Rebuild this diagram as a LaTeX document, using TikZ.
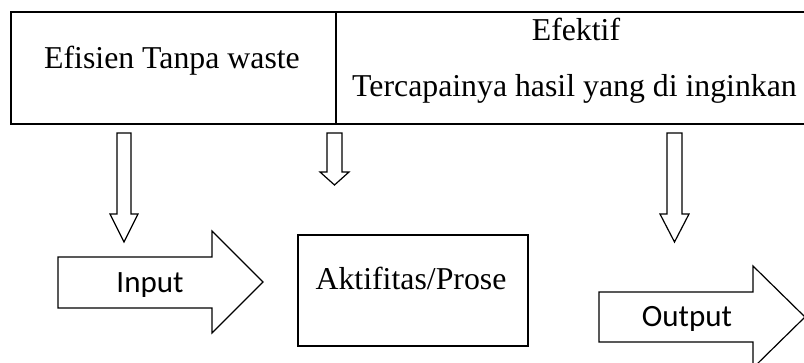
\documentclass[tikz,border=0pt]{standalone}
\usepackage{fontspec}
\setmainfont{Liberation Serif}
\newfontfamily\calfont{Carlito}
\begin{document}
\begin{tikzpicture}[x=1pt,y=-1pt,
  cell/.style={draw,line width=2pt,inner sep=0pt},
  blockarrow/.style={draw,line width=1.2pt,fill=white,line join=miter},
  serif/.style={font=\fontsize{31.8}{36}\selectfont,inner sep=0pt,anchor=base},
  sans/.style={font=\calfont\fontsize{31}{36}\selectfont,inner sep=0pt,anchor=base}]
\useasboundingbox (0,0) rectangle (804,363);
\clip (0,0) rectangle (804,363);
\fill[white] (0,0) rectangle (804,363);
% table
\node[cell,minimum width=325pt,minimum height=111.5pt] (left) at (173.5,68.25) {};
\node[cell,minimum width=494pt,minimum height=111.5pt] (right) at (583,68.25) {};
\node[serif] (efisien) at (172,69) {Efisien Tanpa waste};
\node[serif] (efektif) at (576,41) {Efektif};
\node[serif] (hasil) at (574.5,97) {Tercapainya hasil yang di inginkan};
% down arrows
\draw[blockarrow] (117,133) -- (131,133) -- (131,214) -- (138,214) -- (124,242) -- (110,214) -- (117,214) -- cycle;
\draw[blockarrow] (327,133) -- (342,133) -- (342,172) -- (349,172) -- (334.5,185) -- (320,172) -- (327,172) -- cycle;
\draw[blockarrow] (667,133) -- (682,133) -- (682,214) -- (689,214) -- (674.5,242) -- (660,214) -- (667,214) -- cycle;
% input arrow
\draw[blockarrow] (58,257) -- (212,257) -- (212,231) -- (263,282) -- (212,333) -- (212,308) -- (58,308) -- cycle;
\node[sans] (input) at (150,293) {Input};
% process box
\node[draw,line width=1.8pt,minimum width=230pt,minimum height=111pt,inner sep=0pt] (proc) at (413,290.5) {};
\node[serif] (aktif) at (411,290) {Aktifitas/Prose};
% output arrow
\draw[blockarrow] (599,292) -- (753,292) -- (753,266) -- (805,317) -- (753,368) -- (753,342) -- (599,342) -- cycle;
\node[sans] (output) at (687,327) {Output};
\end{tikzpicture}
\end{document}
